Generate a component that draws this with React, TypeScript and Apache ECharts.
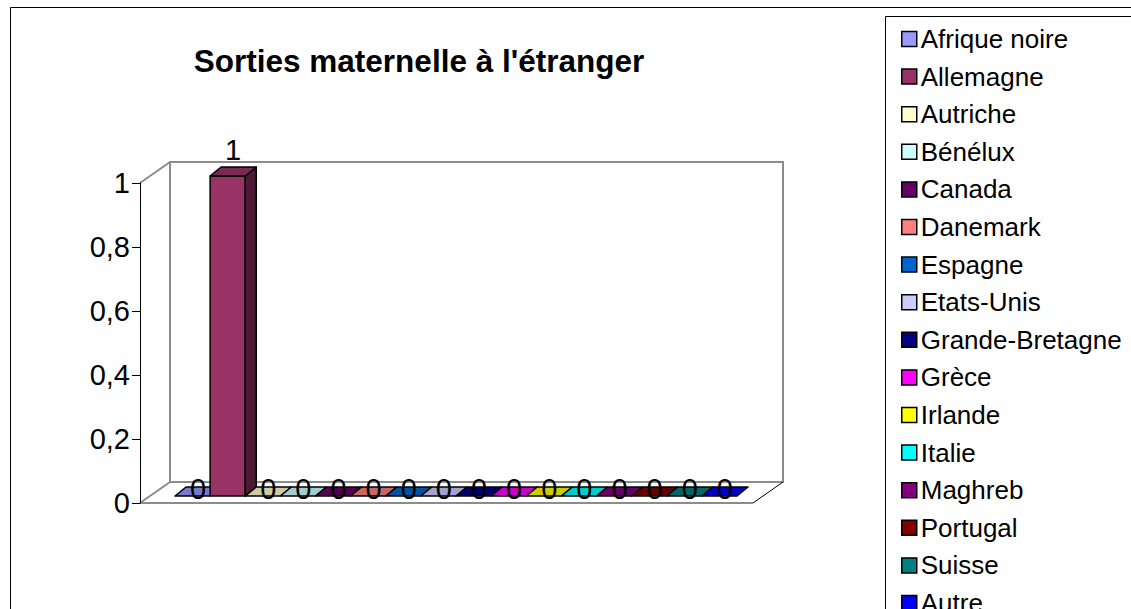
import React, { useEffect, useRef } from "react";
import * as echarts from "echarts";

const TITLE = "Sorties maternelle à l'étranger";
const categories = [
  "Afrique noire", "Allemagne", "Autriche", "Bénélux", "Canada", "Danemark",
  "Espagne", "Etats-Unis", "Grande-Bretagne", "Grèce", "Irlande", "Italie",
  "Maghreb", "Portugal", "Suisse", "Autre",
];
const values = [0, 1, 0, 0, 0, 0, 0, 0, 0, 0, 0, 0, 0, 0, 0, 0];
const colors = [
  "#9999FF", "#993366", "#FFFFCC", "#CCFFFF", "#660066", "#FF8080",
  "#0066CC", "#CCCCFF", "#000080", "#FF00FF", "#FFFF00", "#00FFFF",
  "#800080", "#800000", "#008080", "#0000FF",
];
const yMin = 0;
const yMax = 1;
const yInterval = 0.2;

const FONT = "'Liberation Sans', Arial, sans-serif";

function shade(hex: string, f: number): string {
  const n = parseInt(hex.slice(1), 16);
  const r = Math.round(((n >> 16) & 255) * f);
  const g = Math.round(((n >> 8) & 255) * f);
  const b = Math.round((n & 255) * f);
  return `rgb(${r},${g},${b})`;
}

const DX = 11;
const DY = -9;

export default function App() {
  const ref = useRef<HTMLDivElement>(null);
  useEffect(() => {
    if (!ref.current) return;
    const chart = echarts.init(ref.current, null, { renderer: "svg" });

    const series = categories.map((name, i) => ({
      type: "custom",
      name,
      xAxisIndex: 1,
      yAxisIndex: 1,
      itemStyle: { color: colors[i] },
      data: [[i, values[i]]],
      renderItem: (params: any, api: any) => {
        const cat = api.value(0);
        const v = api.value(1);
        const base = api.coord([cat, 0]);
        const top = api.coord([cat, v]);
        const bw = api.size([1, 0])[0];
        const x0 = base[0] - bw / 2;
        const x1 = x0 + bw;
        const yb = base[1];
        const yt = top[1];
        const c = colors[i];
        const children: any[] = [];
        const stroke = { stroke: "#000", lineWidth: 1.5, lineJoin: "round" };
        if (v > 0) {
          children.push({
            type: "rect",
            shape: { x: x0, y: yt, width: bw, height: yb - yt },
            style: { fill: c, ...stroke },
          });
          children.push({
            type: "polygon",
            shape: { points: [[x1, yt], [x1, yb], [x1 + DX, yb + DY], [x1 + DX, yt + DY]] },
            style: { fill: shade(c, 0.5), ...stroke },
          });
        }
        children.push({
          type: "polygon",
          shape: { points: [[x0, yt], [x1, yt], [x1 + DX, yt + DY], [x0 + DX, yt + DY]] },
          style: { fill: shade(c, 0.8), ...stroke },
        });
        children.push({
          type: "text",
          style: {
            text: String(v),
            x: x0 + bw / 2 + DX / 2,
            y: v > 0 ? yt - 12 : yb + 7,
            textAlign: "center",
            textVerticalAlign: "bottom",
            font: `29px ${FONT}`,
            fill: "#000",
          },
        });
        return { type: "group", children };
      },
    }));

    const wallGray = "#8c8c8c";
    chart.setOption({
      animation: false,
      backgroundColor: "#fff",
      textStyle: { fontFamily: FONT },
      grid: [
        { left: 140, top: 183, width: 613, height: 320 },
        { left: 175, top: 176, width: 562, height: 320 },
      ],
      xAxis: [
        { type: "category", gridIndex: 0, data: categories, show: false },
        { type: "category", gridIndex: 1, data: categories, show: false },
      ],
      yAxis: [
        {
          type: "value",
          gridIndex: 0,
          min: yMin,
          max: yMax,
          interval: yInterval,
          axisLine: { show: true, lineStyle: { color: "#000", width: 1 } },
          axisTick: { show: true, length: 8, lineStyle: { color: "#000" } },
          splitLine: { show: false },
          axisLabel: {
            fontSize: 29,
            color: "#000",
            fontFamily: FONT,
            margin: 10,
            formatter: (val: number) => String(val).replace(".", ","),
          },
        },
        { type: "value", gridIndex: 1, min: yMin, max: yMax, show: false },
      ],
      legend: {
        orient: "vertical",
        left: 896,
        top: 21,
        height: 700,
        itemWidth: 15,
        itemHeight: 15,
        itemGap: 11.6,
        icon: "rect",
        selectedMode: false,
        itemStyle: { borderColor: "#000", borderWidth: 1.5 },
        textStyle: { fontSize: 26, lineHeight: 26, color: "#000", fontFamily: FONT, padding: [0, 0, 0, -1] },
        data: categories,
      },
      graphic: [
        {
          type: "rect",
          shape: { x: 10.5, y: 7.5, width: 2000, height: 2000 },
          style: { fill: "none", stroke: "#000", lineWidth: 1 },
          z: -10,
        },
        {
          type: "rect",
          shape: { x: 885.5, y: 16.5, width: 1000, height: 1000 },
          style: { fill: "none", stroke: "#000", lineWidth: 1 },
          z: -10,
        },
        {
          type: "text",
          style: {
            text: TITLE,
            x: 419,
            y: 61,
            textAlign: "center",
            textVerticalAlign: "middle",
            font: `bold 31.5px ${FONT}`,
            fill: "#000",
          },
        },
        {
          type: "polyline",
          shape: { points: [[170, 482], [170, 162], [783, 162], [783, 482], [170, 482]] },
          style: { stroke: wallGray, lineWidth: 2, fill: "none" },
          z: -5,
        },
        {
          type: "polyline",
          shape: { points: [[140, 183], [170, 162]] },
          style: { stroke: wallGray, lineWidth: 2, fill: "none" },
          z: -5,
        },
        {
          type: "polyline",
          shape: { points: [[140, 503], [170, 482]] },
          style: { stroke: wallGray, lineWidth: 2, fill: "none" },
          z: -5,
        },
        {
          type: "polyline",
          shape: { points: [[140, 503], [753, 503]] },
          style: { stroke: wallGray, lineWidth: 2, fill: "none" },
          z: -5,
        },
        {
          type: "polyline",
          shape: { points: [[753, 503], [783, 482]] },
          style: { stroke: "#000", lineWidth: 1, fill: "none" },
          z: -5,
        },
      ],
      series,
    });
    return () => chart.dispose();
  }, []);
  return (
    <div
      ref={ref}
      style={{ position: "fixed", left: 0, top: 0, width: 1131, height: 609, background: "#fff" }}
    />
  );
}
